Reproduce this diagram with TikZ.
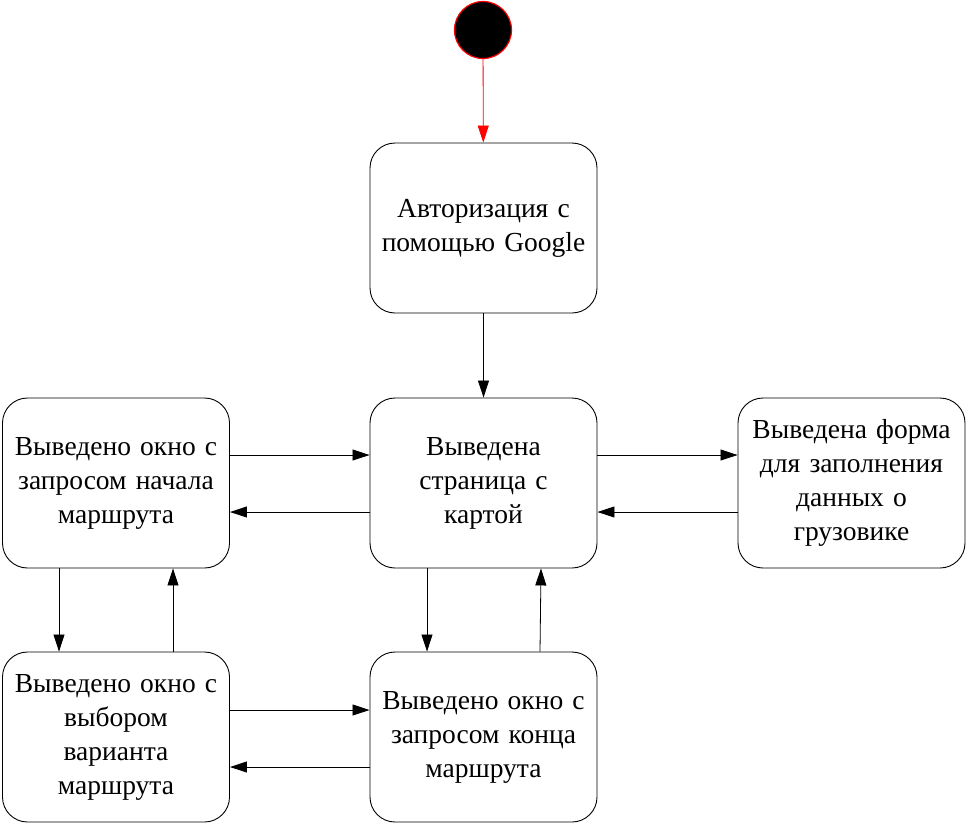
\documentclass[tikz,border=0pt]{standalone}
\usepackage{fontspec}
\setmainfont{Liberation Serif}
\usetikzlibrary{arrows.meta}
\begin{document}
\begin{tikzpicture}[x=1pt,y=-1pt,
  state/.style={draw, rounded corners=25pt, minimum width=227pt, minimum height=170pt,
    text width=220pt, align=center, inner sep=0pt, line width=0.9pt,
    font=\fontsize{27.5}{34}\selectfont},
  arr/.style={-{Triangle[length=17pt,width=11pt]}, line width=0.8pt},
  startnode/.style={circle, draw=red, fill=black, line width=1.2pt, minimum size=57pt, inner sep=0pt}]
\useasboundingbox (0,0) rectangle (973,824);
\node[startnode] (s) at (483,30) {};
\node[state] (A) at (483.5,228) {Авторизация с\\помощью Google};
\node[state] (C) at (483.5,483) {Выведена\\страница с\\картой};
\node[state] (L) at (116,483) {Выведено окно с\\запросом начала\\маршрута};
\node[state] (R) at (851.5,483) {Выведена форма\\для заполнения\\данных о\\грузовике};
\node[state] (BL) at (116,737) {Выведено окно с\\выбором\\варианта\\маршрута};
\node[state] (BM) at (483.5,737) {Выведено окно с\\запросом конца\\маршрута};
\draw[arr, draw=red, -{Triangle[length=17pt,width=11pt,fill=red]}] (s) -- (A);
\draw[arr] (A) -- (C);
\draw[arr] (L.east |- 0,455) -- (C.west |- 0,455);
\draw[arr] (C.west |- 0,512) -- (L.east |- 0,512);
\draw[arr] (C.east |- 0,455) -- (R.west |- 0,455);
\draw[arr] (R.west |- 0,512) -- (C.east |- 0,512);
\draw[arr] (L.south -| 59,0) -- (BL.north -| 59,0);
\draw[arr] (BL.north -| 173,0) -- (L.south -| 173,0);
\draw[arr] (BL.east |- 0,710) -- (BM.west |- 0,710);
\draw[arr] (BM.west |- 0,767) -- (BL.east |- 0,767);
\draw[arr] (C.south -| 427,0) -- (BM.north -| 427,0);
\draw[arr] (BM.north -| 540,0) -- (C.south -| 541,0);
\end{tikzpicture}
\end{document}
